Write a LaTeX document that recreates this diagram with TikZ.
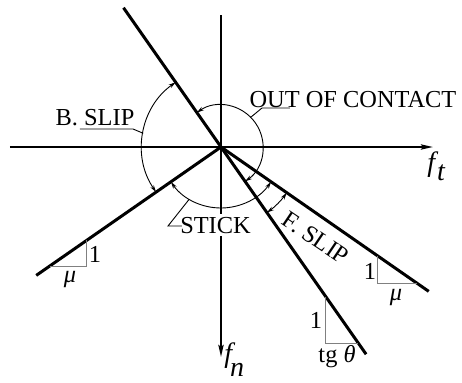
\documentclass[tikz,border=0pt]{standalone}
\usepackage{fontspec}
\setmainfont{Liberation Serif}
\usetikzlibrary{arrows.meta,calc}
\begin{document}
\begin{tikzpicture}[x=0.5pt,y=0.5pt,
  axis/.style={line width=1pt,-{Stealth[length=6pt,width=2.6pt,inset=1pt]}},
  bound/.style={line width=1.5pt},
  dimarc/.style={line width=0.45pt,{Stealth[length=3.6pt,width=2pt]}-{Stealth[length=3.6pt,width=2pt]}},
  leader/.style={line width=0.45pt},
  slope/.style={line width=0.5pt,gray},
  lbl/.style={font=\fontsize{12.2}{14}\selectfont,inner sep=0pt},
  var/.style={font=\fontsize{14}{16}\selectfont\itshape,inner sep=0pt}]
\useasboundingbox (0,0) rectangle (462,382);
% points
\coordinate (O) at (221,235);
\coordinate (xs) at (10,235);
\coordinate (xe) at (433,235);
\coordinate (ys) at (221,367);
\coordinate (ye) at (221,25);
\coordinate (UL) at ($(O)+(125:170)$);
\coordinate (LRs) at ($(O)+(-55:253)$);
\coordinate (LL) at ($(O)+(214.8:225)$);
\coordinate (LRm) at ($(O)+(-34.8:253)$);
% axes
\draw[axis] (xs) -- (xe);
\draw[axis] (ys) -- (ye);
% boundary lines
\draw[bound] (UL) -- (LRs);
\draw[bound] (LL) -- (O) -- (LRm);
% region arcs
\draw[dimarc] ($(O)+(125:79)$) arc[start angle=125,end angle=214.8,radius=79];
\draw[dimarc] ($(O)+(125:42)$) arc[start angle=125,end angle=-55,radius=42];
\draw[dimarc] ($(O)+(214.8:61)$) arc[start angle=214.8,end angle=325.2,radius=61];
\draw[dimarc] ($(O)+(-55:80)$) arc[start angle=-55,end angle=-34.8,radius=80];
% slope triangles
\draw[slope] (50,116) -- (87,116) -- (87,142);
\draw[slope] (378,126) -- (378,99) -- (417,99);
\draw[slope] (326,85) -- (326,39) -- (358,39);
% labels
\node[lbl,anchor=base] (bslip) at (95,257) {B. SLIP};
\node[lbl,anchor=base] (ooc) at (353,275) {OUT OF CONTACT};
\node[lbl,anchor=base,fill=white,inner xsep=1pt,inner ysep=1.5pt,text height=8.2pt,text depth=0pt] (stick) at (215.5,149) {STICK};
\node[lbl,rotate=-34] (fslip) at (316,144) {F. SLIP};
\node[lbl] (one1) at (95,128) {1};
\node[lbl] (mu1) at (70,102) {\itshape μ};
\node[lbl] (one2) at (370,111) {1};
\node[lbl] (mu2) at (396,84) {\itshape μ};
\node[lbl] (one3) at (316,62) {1};
\node[lbl] (tg) at (337,25) {tg \itshape θ};
\node[var,anchor=base west] (ft) at (427,210.5) {f\kern1pt\raisebox{-4.3pt}{t}};
\node[var,anchor=base west] (fn) at (224,20) {f\kern-1pt\raisebox{-7.4pt}{n}};
% leaders
\coordinate (bsA) at ($(O)+(170:79)$);
\coordinate (bsB) at (133,253);
\coordinate (bsC) at (80,253);
\draw[leader] (bsA) -- (bsB) -- (bsC);
\coordinate (ocA) at ($(O)+(45:42)$);
\coordinate (ocB) at (262,274);
\coordinate (ocC) at (290,274);
\draw[leader] (ocA) -- (ocB) -- (ocC);
\coordinate (stA) at ($(O)+(238.7:61)$);
\coordinate (stB) at (168,156);
\coordinate (stC) at (182,156);
\draw[leader] (stA) -- (stB) -- (stC);
\end{tikzpicture}
\end{document}
